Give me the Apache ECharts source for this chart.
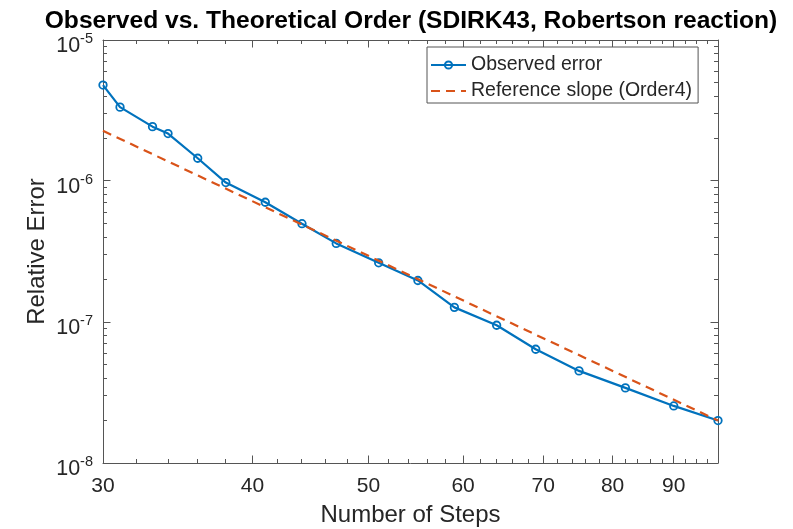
<!DOCTYPE html>
<html>
<head>
<meta charset="utf-8">
<script src="https://cdn.jsdelivr.net/npm/echarts@6/dist/echarts.min.js"></script>
<style>
html,body{margin:0;padding:0;background:#fff;}
#chart{width:793px;height:529px;}
</style>
</head>
<body>
<div id="chart"></div>
<script>
// ---- data ----
const steps = [30, 31, 33, 34, 36, 38, 41, 44, 47, 51, 55, 59, 64, 69, 75, 82, 90, 98];
const observedError = [4.79e-6, 3.34e-6, 2.43e-6, 2.17e-6, 1.45e-6, 9.75e-7, 7.07e-7, 4.98e-7,
  3.61e-7, 2.63e-7, 1.97e-7, 1.27e-7, 9.48e-8, 6.41e-8, 4.50e-8, 3.41e-8, 2.54e-8, 2.00e-8];
const refSteps = [30, 98];
const refError = [2.27e-6, 2.00e-8];
const xRange = [30, 98];
const yRange = [1e-8, 1e-5];
const xTickLabels = [30, 40, 50, 60, 70, 80, 90];
const xMinorTicks = [32, 34, 36, 38, 42, 44, 46, 48, 52, 54, 56, 58, 62, 64, 66, 68,
  72, 74, 76, 78, 82, 84, 86, 88, 92, 94, 96];
const yTickLabels = [1e-8, 1e-7, 1e-6, 1e-5];
const yMinorTicks = [2e-8, 3e-8, 4e-8, 5e-8, 6e-8, 7e-8, 8e-8, 9e-8,
  2e-7, 3e-7, 4e-7, 5e-7, 6e-7, 7e-7, 8e-7, 9e-7,
  2e-6, 3e-6, 4e-6, 5e-6, 6e-6, 7e-6, 8e-6, 9e-6];

const FONT = 'Liberation Sans, Arial, Helvetica, sans-serif';
const TXT = '#262626';
const AX = '#555555';

const xAxes = [
  {
    type: 'log', logBase: 10, min: xRange[0], max: xRange[1], position: 'bottom',
    axisLine: { show: true, lineStyle: { color: AX, width: 1 } },
    axisTick: { show: false },
    axisLabel: { show: true, customValues: xTickLabels, fontSize: 21, color: TXT, fontFamily: FONT, margin: 13 },
    splitLine: { show: false }, minorTick: { show: false },
    name: 'Number of Steps', nameLocation: 'middle', nameGap: 40,
    nameTextStyle: { fontSize: 24, color: TXT, fontFamily: FONT }
  },
  {
    type: 'log', logBase: 10, min: xRange[0], max: xRange[1], position: 'top',
    axisLine: { show: true, lineStyle: { color: AX, width: 1 } },
    axisTick: { show: false }, axisLabel: { show: false }, splitLine: { show: false }
  }
];
const yAxes = [
  {
    type: 'log', logBase: 10, min: yRange[0], max: yRange[1], position: 'left',
    axisLine: { show: true, lineStyle: { color: AX, width: 1 } },
    axisTick: { show: false },
    axisLabel: {
      show: true, customValues: yTickLabels, margin: 10, padding: [9, 0, 0, 0],
      formatter: function (v) { return '{b|10}{s|' + Math.round(Math.log10(v)) + '}'; },
      rich: {
        b: { fontSize: 21.5, lineHeight: 26, color: TXT, fontFamily: FONT, verticalAlign: 'bottom' },
        s: { fontSize: 14.5, lineHeight: 15, color: TXT, fontFamily: FONT, verticalAlign: 'top' }
      }
    },
    splitLine: { show: false }, minorTick: { show: false },
    name: 'Relative Error', nameLocation: 'middle', nameGap: 54, nameMoveOverlap: false,
    nameTextStyle: { fontSize: 24, color: TXT, fontFamily: FONT }
  },
  {
    type: 'log', logBase: 10, min: yRange[0], max: yRange[1], position: 'right',
    axisLine: { show: true, lineStyle: { color: AX, width: 1 } },
    axisTick: { show: false }, axisLabel: { show: false }, splitLine: { show: false }
  }
];

// inward tick marks on all four sides, placed through the axis scales
function tickSeries(values, dim, len) {
  return {
    type: 'custom', xAxisIndex: 0, yAxisIndex: 0, silent: true, z: 1, clip: false,
    data: values.map(v => dim === 'x' ? [v, yRange[0]] : [xRange[0], v]),
    encode: { x: 0, y: 1 },
    renderItem: function (params, api) {
      const st = { stroke: AX, lineWidth: 1 };
      if (dim === 'x') {
        const v = api.value(0);
        const b = api.coord([v, yRange[0]]);
        const t = api.coord([v, yRange[1]]);
        const x = Math.round(b[0] - 0.5) + 0.5;
        return { type: 'group', children: [
          { type: 'line', shape: { x1: x, y1: b[1], x2: x, y2: b[1] - len }, style: st },
          { type: 'line', shape: { x1: x, y1: t[1], x2: x, y2: t[1] + len }, style: st }
        ] };
      } else {
        const v = api.value(1);
        const l = api.coord([xRange[0], v]);
        const r = api.coord([xRange[1], v]);
        const y = Math.round(l[1] - 0.5) + 0.5;
        return { type: 'group', children: [
          { type: 'line', shape: { x1: l[0], y1: y, x2: l[0] + len, y2: y }, style: st },
          { type: 'line', shape: { x1: r[0], y1: y, x2: r[0] - len, y2: y }, style: st }
        ] };
      }
    }
  };
}

const chart = echarts.init(document.getElementById('chart'), null, { renderer: 'canvas' });
chart.setOption({
  animation: false,
  backgroundColor: '#fff',
  title: {
    text: 'Observed vs. Theoretical Order (SDIRK43, Robertson reaction)',
    left: 406, top: 4, textAlign: 'center',
    textStyle: { fontSize: 24.6, fontWeight: 'bold', color: '#000', fontFamily: FONT }
  },
  legend: {
    orient: 'vertical', left: 427, top: 47,
    padding: [8, 6, 2, 3],
    itemWidth: 35, itemHeight: 9, itemGap: 6,
    borderColor: AX, borderWidth: 1, backgroundColor: '#fff',
    textStyle: { fontSize: 19.5, color: TXT, fontFamily: FONT, lineHeight: 20 },
    data: [
      { name: 'Observed error' },
      { name: 'Reference slope (Order4)', itemStyle: { opacity: 0 } }
    ]
  },
  grid: { left: 103, right: 75, top: 40, bottom: 66, containLabel: false, outerBoundsMode: 'none' },
  xAxis: xAxes,
  yAxis: yAxes,
  series: [
    tickSeries(xTickLabels, 'x', 7.5),
    tickSeries(xMinorTicks, 'x', 4),
    tickSeries(yTickLabels, 'y', 7.5),
    tickSeries(yMinorTicks, 'y', 4),
    {
      name: 'Observed error', type: 'line', xAxisIndex: 0, yAxisIndex: 0, z: 3,
      data: steps.map((s, i) => [s, observedError[i]]),
      symbol: 'circle', symbolSize: 7.5,
      lineStyle: { color: '#0072BD', width: 2.2 },
      itemStyle: { color: 'rgba(0,0,0,0)', borderColor: '#0072BD', borderWidth: 1.8 }
    },
    {
      name: 'Reference slope (Order4)', type: 'line', xAxisIndex: 0, yAxisIndex: 0, z: 4,
      data: refSteps.map((s, i) => [s, refError[i]]),
      symbol: 'none',
      lineStyle: { color: '#D95319', width: 2.2, type: [9, 6] },
      itemStyle: { color: '#D95319', opacity: 0 }
    }
  ]
});
</script>
</body>
</html>
